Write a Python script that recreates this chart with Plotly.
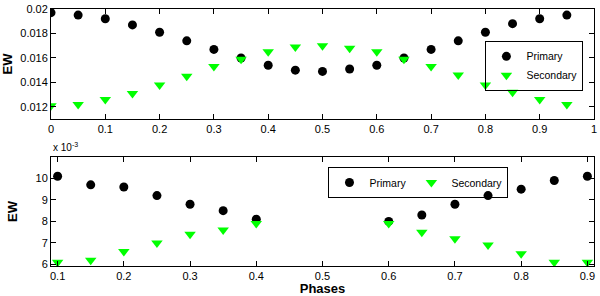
import plotly.graph_objects as go

# Top panel data
phase_top = [0, 0.05, 0.1, 0.15, 0.2, 0.25, 0.3, 0.35, 0.4, 0.45, 0.5, 0.55, 0.6, 0.65, 0.7, 0.75, 0.8, 0.85, 0.9, 0.95]
prim_top = [0.0197, 0.0195, 0.0192, 0.0187, 0.0181, 0.0174, 0.0167, 0.0160, 0.0154, 0.0150, 0.0149, 0.0151, 0.0154, 0.0160, 0.0167, 0.0174, 0.0181, 0.0188, 0.0192, 0.0195]
sec_top = [0.0121, 0.0122, 0.0126, 0.0131, 0.0138, 0.0145, 0.0153, 0.0159, 0.0165, 0.0169, 0.0170, 0.0168, 0.0165, 0.0159, 0.0153, 0.0146, 0.0138, 0.0132, 0.0126, 0.0122]

# Bottom panel data (units of 1e-3)
phase_bot = [0.1, 0.15, 0.2, 0.25, 0.3, 0.35, 0.4, 0.6, 0.65, 0.7, 0.75, 0.8, 0.85, 0.9]
prim_bot = [10.1, 9.7, 9.6, 9.2, 8.8, 8.5, 8.1, 8.0, 8.3, 8.8, 9.2, 9.5, 9.9, 10.1]
sec_bot = [6.1, 6.2, 6.6, 7.0, 7.4, 7.6, 7.9, 7.9, 7.5, 7.2, 6.9, 6.5, 6.1, 6.1]

top_xticks = [0, 0.1, 0.2, 0.3, 0.4, 0.5, 0.6, 0.7, 0.8, 0.9, 1]
top_xticklabels = ["0", "0.1", "0.2", "0.3", "0.4", "0.5", "0.6", "0.7", "0.8", "0.9", "1"]
top_yticks = [0.012, 0.014, 0.016, 0.018, 0.02]
top_yticklabels = ["0.012", "0.014", "0.016", "0.018", "0.02"]
bot_xticks = [0.1, 0.2, 0.3, 0.4, 0.5, 0.6, 0.7, 0.8, 0.9]
bot_yticks = [6, 7, 8, 9, 10]

GREEN = "#00ff00"
FONT = "Liberation Sans, Arial, sans-serif"

fig = go.Figure()
fig.add_trace(go.Scatter(x=phase_top, y=prim_top, mode="markers", name="Primary",
                         marker=dict(symbol="circle", size=9, color="black"),
                         xaxis="x", yaxis="y", legend="legend"))
fig.add_trace(go.Scatter(x=phase_top, y=sec_top, mode="markers", name="Secondary",
                         marker=dict(symbol="triangle-down", size=10, color=GREEN),
                         xaxis="x", yaxis="y", legend="legend"))
fig.add_trace(go.Scatter(x=phase_bot, y=prim_bot, mode="markers", name="Primary",
                         marker=dict(symbol="circle", size=9, color="black"),
                         xaxis="x2", yaxis="y2", legend="legend2"))
fig.add_trace(go.Scatter(x=phase_bot, y=sec_bot, mode="markers", name="Secondary",
                         marker=dict(symbol="triangle-down", size=10, color=GREEN),
                         xaxis="x2", yaxis="y2", legend="legend2"))

axis_common = dict(showline=True, linecolor="black", linewidth=1, mirror="ticks",
                   ticks="inside", ticklen=5, tickcolor="black", showgrid=False,
                   zeroline=False, tickfont=dict(family=FONT, size=11, color="black"))

fig.update_layout(
    width=600, height=296,
    margin=dict(l=51, r=3, t=8, b=29),
    paper_bgcolor="white", plot_bgcolor="white",
    font=dict(family=FONT, color="black"),
    xaxis=dict(domain=[0, 1], range=[0, 1], tickvals=top_xticks, ticktext=top_xticklabels,
               anchor="y", **axis_common),
    yaxis=dict(domain=[0.5714, 1], range=[0.011, 0.02], tickvals=top_yticks, ticktext=top_yticklabels,
               anchor="x", title=dict(text="<b>EW</b>", font=dict(size=13), standoff=6), **axis_common),
    xaxis2=dict(domain=[0, 1], range=[0.09, 0.91], tickvals=bot_xticks, anchor="y2",
                title=dict(text="<b>Phases</b>", font=dict(size=13), standoff=2), **axis_common),
    yaxis2=dict(domain=[0, 0.4247], range=[5.93, 11], tickvals=bot_yticks, anchor="x2",
                title=dict(text="<b>EW</b>", font=dict(size=13), standoff=14), **axis_common),
    legend=dict(x=0.8, y=0.876, xanchor="left", yanchor="top", xref="paper", yref="paper",
                bordercolor="black", borderwidth=1, bgcolor="rgba(255,255,255,0)",
                font=dict(size=10.5, family=FONT), tracegroupgap=0, itemwidth=30,
                itemsizing="trace"),
    legend2=dict(x=0.511, y=0.385, xanchor="left", yanchor="top", orientation="h",
                 bordercolor="black", borderwidth=1, bgcolor="rgba(255,255,255,0)",
                 font=dict(size=10.5, family=FONT), itemwidth=30, itemsizing="trace"),
    showlegend=True,
)

fig.add_annotation(text="x 10<sup>-3</sup>", xref="paper", yref="paper", x=0, y=0.43,
                   xanchor="left", yanchor="bottom", showarrow=False,
                   font=dict(size=10, family=FONT, color="black"))

fig.write_html("out.html", config={"displayModeBar": False})

# remove default page margin so the figure sits at the window's top-left corner
with open("out.html", "r", encoding="utf-8") as f:
    html = f.read()
html = html.replace("<head>", "<head><style>html,body{margin:0;padding:0;overflow:hidden;}</style>", 1)
with open("out.html", "w", encoding="utf-8") as f:
    f.write(html)
